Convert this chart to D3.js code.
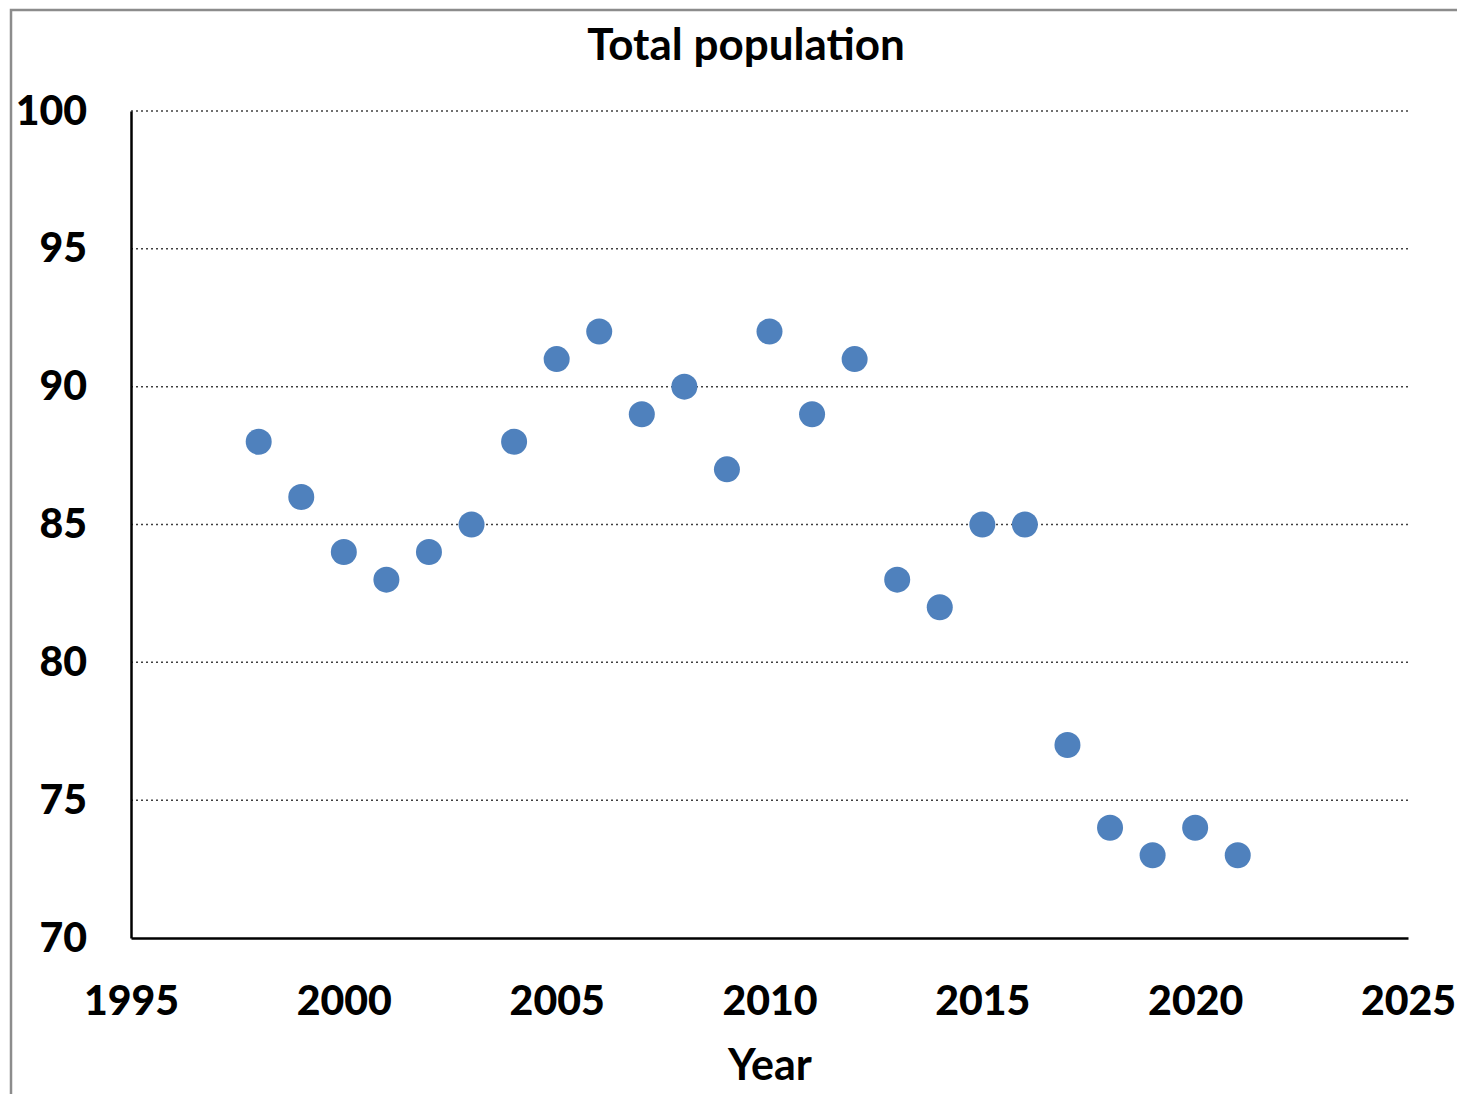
<!DOCTYPE html>
<html>
<head>
    <script type="text/javascript" src="https://cdn.jsdelivr.net/npm/d3@7/dist/d3.min.js" charset="utf-8"></script>
    <style>
        body { margin: 0; background: #fff; }
        text { font-family: Lato, "Open Sans", sans-serif; font-weight: bold; fill: #000; }
    </style>
</head>
<body>
    <div id="viz"></div>
    <script type="text/javascript">
    //Data
    var years = [1998, 1999, 2000, 2001, 2002, 2003, 2004, 2005, 2006, 2007, 2008, 2009,
                 2010, 2011, 2012, 2013, 2014, 2015, 2016, 2017, 2018, 2019, 2020, 2021];
    var population = [88, 86, 84, 83, 84, 85, 88, 91, 92, 89, 90, 87,
                      92, 89, 91, 83, 82, 85, 85, 77, 74, 73, 74, 73];
    var xTicks = [1995, 2000, 2005, 2010, 2015, 2020, 2025];
    var yTicks = [70, 75, 80, 85, 90, 95, 100];

    var width = 1457;
    var height = 1094;

    var svg = d3.select("#viz")
        .append("svg")
        .attr("width", width)
        .attr("height", height);

    //Outer frame (right and bottom edges are cut off in the picture)
    svg.append("path")
        .attr("d", "M11,1094 V10 H1457")
        .attr("fill", "none")
        .attr("stroke", "#8c8c8c")
        .attr("stroke-width", 2.5);

    var x = d3.scaleLinear().domain([1995, 2025]).range([131, 1408]);
    var y = d3.scaleLinear().domain([70, 100]).range([938, 111]);

    //Dotted gridlines
    svg.selectAll("line.grid")
        .data(yTicks.filter(function(d) { return d > 70; }))
        .enter()
        .append("line")
        .attr("class", "grid")
        .attr("x1", x(1995))
        .attr("x2", x(2025))
        .attr("y1", function(d) { return y(d); })
        .attr("y2", function(d) { return y(d); })
        .attr("stroke", "#404040")
        .attr("stroke-width", 1.5)
        .attr("stroke-dasharray", "2,3");

    //Axes
    var xAxis = svg.append("g")
        .attr("transform", "translate(0," + y(70) + ")")
        .call(d3.axisBottom(x).tickValues(xTicks).tickSize(0).tickPadding(48).tickFormat(d3.format("d")));
    var yAxis = svg.append("g")
        .attr("transform", "translate(" + x(1995) + ",0)")
        .call(d3.axisLeft(y).tickValues(yTicks).tickSize(0).tickPadding(44));

    [xAxis, yAxis].forEach(function(a) {
        a.select(".domain").attr("stroke", "#000").attr("stroke-width", 2.5);
        a.selectAll("text")
            .style("font-size", "41px")
            .style("font-weight", "900")
            .attr("fill", "#000");
    });

    //Points
    svg.selectAll("circle")
        .data(years)
        .enter()
        .append("circle")
        .attr("cx", function(d) { return x(d); })
        .attr("cy", function(d, i) { return y(population[i]); })
        .attr("r", 13)
        .attr("fill", "#4f81bd");

    //Titles
    svg.append("text")
        .attr("x", 746)
        .attr("y", 60)
        .attr("text-anchor", "middle")
        .style("font-size", "44px")
        .text("Total population");

    svg.append("text")
        .attr("x", 770)
        .attr("y", 1080)
        .attr("text-anchor", "middle")
        .style("font-size", "43px")
        .text("Year");
    </script>
</body>
</html>
